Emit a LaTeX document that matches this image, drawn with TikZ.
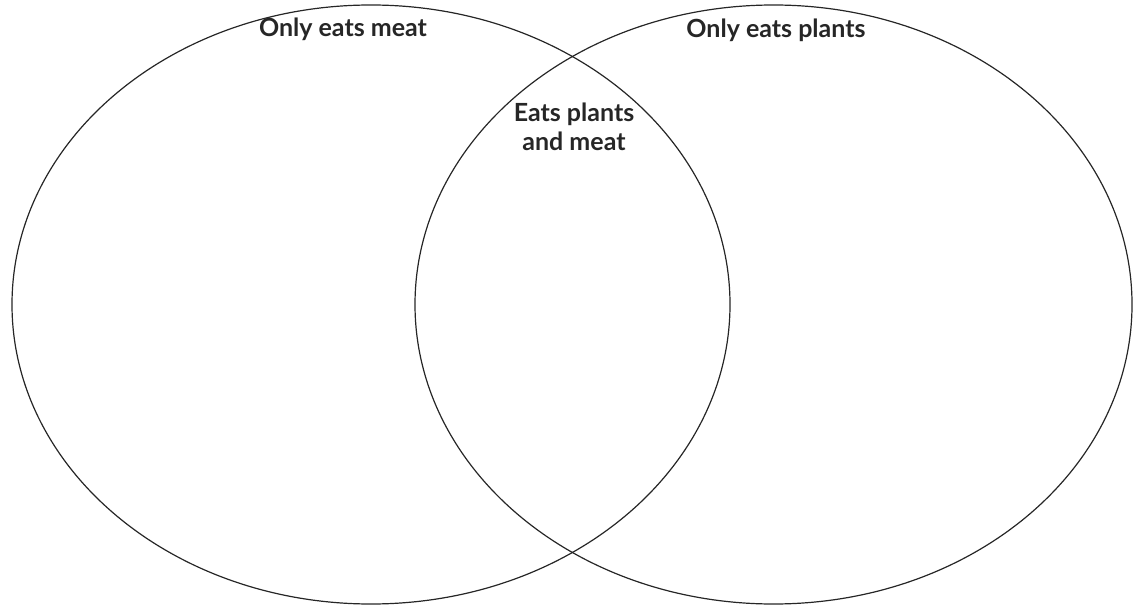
\documentclass[tikz,border=0pt]{standalone}
\usepackage{fontspec}
\setmainfont{Lato}
\begin{document}
\begin{tikzpicture}[x=1pt,y=-1pt,
  setcircle/.style={draw=black!85, line width=1.2pt},
  lbl/.style={font=\bfseries\fontsize{25}{29}\selectfont, text=black!85, align=center, inner sep=0pt}]
\useasboundingbox (0,0) rectangle (1134,612);
\draw[setcircle] (371,304.5) ellipse [x radius=359, y radius=299.5];
\draw[setcircle] (773.5,304.5) ellipse [x radius=358.5, y radius=299.5];
\node[lbl] (meat) at (343,29) {Only eats meat};
\node[lbl] (plants) at (776,30) {Only eats plants};
\node[lbl] (both) at (574,127) {Eats plants\\and meat};
\end{tikzpicture}
\end{document}
